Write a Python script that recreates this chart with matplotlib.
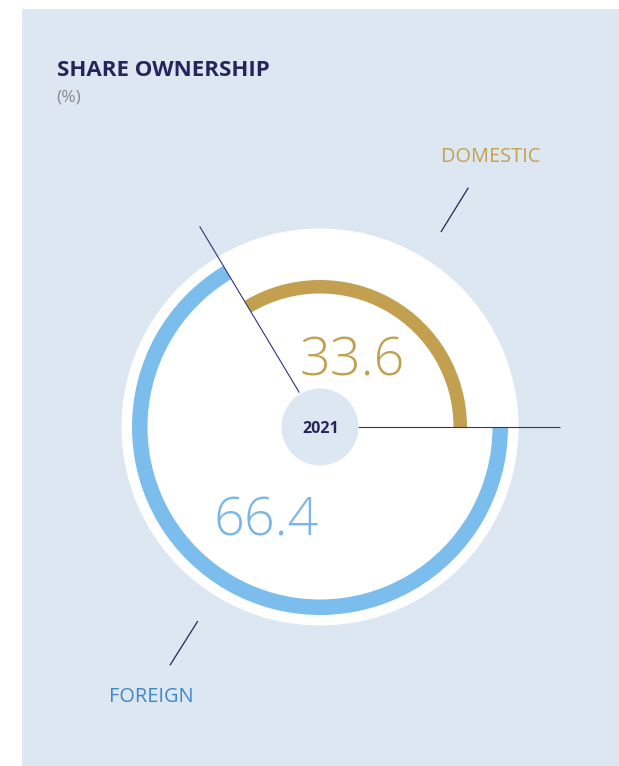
import matplotlib
matplotlib.use("Agg")
import matplotlib.pyplot as plt
from matplotlib.patches import Wedge, Circle, Rectangle
import numpy as np

# ---- data ----
categories = ["DOMESTIC", "FOREIGN"]
shares = [33.6, 66.4]
year = "2021"
title = "SHARE OWNERSHIP"
unit = "(%)"

# ---- style ----
W, H = 619, 766
panel_color = "#dce7f1"
gold = "#c3a050"
blue_ring = "#7bbdec"
blue_num = "#7ab6e6"
blue_label = "#3f87c7"
navy = "#27245a"
line_color = "#2d3580"

fig = plt.figure(figsize=(W / 100, H / 100), dpi=100)
fig.patch.set_facecolor("white")
ax = fig.add_axes([0, 0, 1, 1])
ax.set_xlim(0, W)
ax.set_ylim(0, H)
ax.set_aspect("equal")
ax.axis("off")

def Y(py):
    return H - py

# panel
ax.add_patch(Rectangle((22, 0), W - 22, Y(9), facecolor=panel_color, edgecolor="none", zorder=0))

cx, cy = 320, Y(427)
ax.add_patch(Circle((cx, cy), 198.5, facecolor="white", edgecolor="none", zorder=1))

# angles from data (counter-clockwise from 3 o'clock)
total = sum(shares)
bounds = np.concatenate([[0], np.cumsum(shares) / total * 360])

# gold inner ring (domestic)
ax.add_patch(Wedge((cx, cy), 147, bounds[0], bounds[1], width=13.5,
                   facecolor=gold, edgecolor="none", zorder=2))
# blue outer ring (foreign)
ax.add_patch(Wedge((cx, cy), 188, bounds[1], bounds[2], width=15.5,
                   facecolor=blue_ring, edgecolor="none", zorder=2))

# separator lines
for ang, r0, r1 in [(bounds[1], 40, 234), (bounds[0], 38, 240)]:
    a = np.deg2rad(ang)
    ax.plot([cx + r0 * np.cos(a), cx + r1 * np.cos(a)],
            [cy + r0 * np.sin(a), cy + r1 * np.sin(a)],
            color=line_color, lw=0.8, zorder=4, solid_capstyle="butt")

# center circle
ax.add_patch(Circle((cx, cy), 38.5, facecolor=panel_color, edgecolor="none", zorder=5))
ax.text(cx + 0.5, Y(429), year, ha="center", va="center", fontsize=11.5,
        fontweight="bold", color=navy, family="Open Sans", zorder=6)

# label leader lines
label_angles = [58.2, 237.8]
for ang in label_angles:
    a = np.deg2rad(ang)
    ax.plot([cx + 230 * np.cos(a), cx + 281 * np.cos(a)],
            [cy + 230 * np.sin(a), cy + 281 * np.sin(a)],
            color=navy, lw=0.9, zorder=4)

# category labels
ax.text(441, Y(162), categories[0], ha="left", va="baseline", fontsize=14.3,
        color=gold, family="Open Sans")
ax.text(109, Y(702), categories[1], ha="left", va="baseline", fontsize=14.3,
        color=blue_label, family="Open Sans")

# values
ax.text(352, Y(375), f"{shares[0]:.1f}", ha="center", va="baseline", fontsize=39,
        color=gold, family="Open Sans", fontweight="light", zorder=6)
ax.text(266, Y(536), f"{shares[1]:.1f}", ha="center", va="baseline", fontsize=39,
        color=blue_num, family="Open Sans", fontweight="light", zorder=6)

# title
ax.text(57, Y(76.5), title, ha="left", va="baseline", fontsize=16,
        fontweight="bold", color=navy, family="Open Sans")
ax.text(56, Y(102), unit, ha="left", va="baseline", fontsize=12.5,
        color="#8a8a8a", family="Open Sans")

fig.savefig("out.png", dpi=100, facecolor=fig.get_facecolor())
